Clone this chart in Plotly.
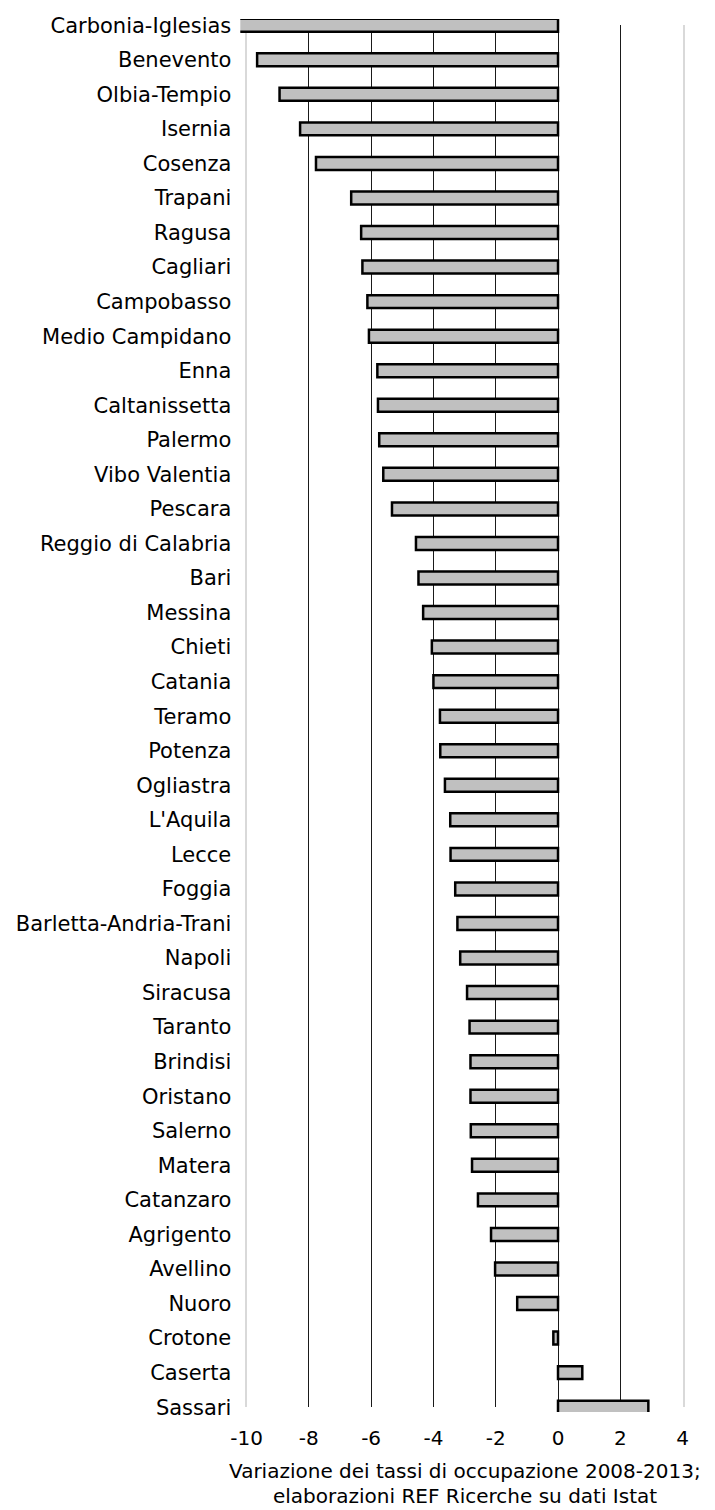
import plotly.graph_objects as go

categories = [
    "Carbonia-Iglesias", "Benevento", "Olbia-Tempio", "Isernia", "Cosenza",
    "Trapani", "Ragusa", "Cagliari", "Campobasso", "Medio Campidano",
    "Enna", "Caltanissetta", "Palermo", "Vibo Valentia", "Pescara",
    "Reggio di Calabria", "Bari", "Messina", "Chieti", "Catania",
    "Teramo", "Potenza", "Ogliastra", "L'Aquila", "Lecce",
    "Foggia", "Barletta-Andria-Trani", "Napoli", "Siracusa", "Taranto",
    "Brindisi", "Oristano", "Salerno", "Matera", "Catanzaro",
    "Agrigento", "Avellino", "Nuoro", "Crotone", "Caserta", "Sassari",
]
values = [
    -10.3, -9.66, -8.94, -8.28, -7.77,
    -6.64, -6.32, -6.28, -6.12, -6.07,
    -5.80, -5.78, -5.74, -5.61, -5.33,
    -4.56, -4.48, -4.33, -4.05, -4.00,
    -3.79, -3.78, -3.63, -3.46, -3.45,
    -3.30, -3.23, -3.14, -2.92, -2.84,
    -2.81, -2.81, -2.80, -2.76, -2.57,
    -2.15, -2.02, -1.31, -0.15, 0.78, 2.90,
]
x_tick_vals = [-10, -8, -6, -4, -2, 0, 2, 4]
x_tick_text = ["-10", "-8", "-6", "-4", "-2", "0", "2", "4"]
grid_vals = [-8, -6, -4, -2, 0, 2]
title_lines = ["Variazione dei tassi di occupazione 2008-2013;",
               "elaborazioni REF Ricerche su dati Istat"]

W, H = 715, 1510
FONT = "DejaVu Sans, Verdana, sans-serif"

def fx(px):
    return px / W

def fy(px):
    return 1 - px / H

fig = go.Figure()
# empty trace so the grid subplot renders
fig.add_trace(go.Scatter(x=[], y=[], xaxis="x", yaxis="y", showlegend=False, hoverinfo="skip"))
fig.add_trace(go.Bar(
    x=values, y=categories, orientation="h", width=0.375,
    marker=dict(color="#c0c0c0", line=dict(color="#000000", width=2.5)),
    xaxis="x2", yaxis="y2", showlegend=False,
))

fig.update_layout(
    template="none",
    width=W, height=H, autosize=False,
    margin=dict(l=0, r=0, t=0, b=0, pad=0, autoexpand=False),
    paper_bgcolor="white", plot_bgcolor="rgba(0,0,0,0)",
    font=dict(family=FONT, size=20, color="#000000"),
    showlegend=False,
    xaxis=dict(domain=[fx(246.5), fx(682.6)], range=[-10, 4], anchor="y",
               tickmode="array", tickvals=grid_vals, showticklabels=False,
               showgrid=True, gridcolor="#1a1a1a", gridwidth=1, automargin=False,
               zeroline=False, showline=False, ticks=""),
    yaxis=dict(domain=[fy(1406.5), fy(24.5)], range=[0, 1], anchor="x",
               showticklabels=False, showgrid=False, zeroline=False, automargin=False,
               showline=True, linecolor="#d9d9d9", linewidth=2, mirror=True, ticks=""),
    xaxis2=dict(domain=[fx(240.3), fx(682.6)], range=[-10.2, 4], anchor="y2",
                tickmode="array", tickvals=x_tick_vals, ticktext=x_tick_text,
                showgrid=False, zeroline=False, showline=False, ticks="", automargin=False,
                ticklabelstandoff=12, tickfont=dict(size=20)),
    yaxis2=dict(domain=[fy(1412), fy(19)], type="category",
                categoryorder="array", categoryarray=categories,
                tickmode="array", tickvals=categories,
                range=[40.14, -0.18], anchor="x2", automargin=False,
                showgrid=False, zeroline=False, showline=False, ticks="",
                ticklabelstandoff=8, tickfont=dict(size=21)),
)

for i, line in enumerate(title_lines):
    fig.add_annotation(text=line, xref="paper", yref="paper",
                       x=fx(465), y=fy(1471 + 25 * i), xanchor="center", yanchor="middle",
                       showarrow=False, font=dict(size=20, family=FONT, color="#000000"))

fig.write_html("out.html", config={"displayModeBar": False},
               post_script="document.body.style.margin='0';document.body.style.overflow='hidden';")
